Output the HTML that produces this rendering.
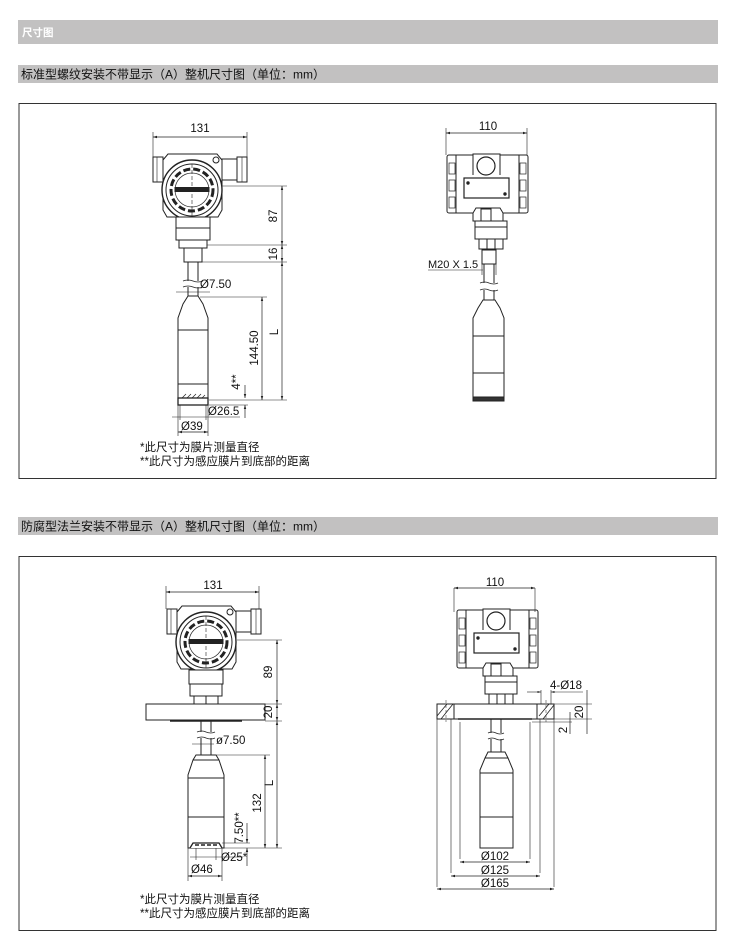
<!DOCTYPE html>
<html><head><meta charset="utf-8"><style>
html,body{margin:0;padding:0;background:#fff;}
body{width:730px;height:948px;position:relative;overflow:hidden;font-family:"Liberation Sans","Noto Sans CJK SC",sans-serif;}
svg{position:absolute;left:0;top:0;}
</style></head><body>
<svg width="730" height="948" viewBox="0 0 730 948" xmlns="http://www.w3.org/2000/svg" font-family="Liberation Sans, Noto Sans CJK SC, sans-serif">
<defs>
<marker id="a" viewBox="0 0 10 10" refX="10" refY="5" markerWidth="6" markerHeight="6" orient="auto-start-reverse"><path d="M0,2 L10,5 L0,8 z" fill="#222"/></marker>
<g id="front">
 <rect x="-39" y="-33" width="10" height="25" fill="#fff" stroke="#222"/>
 <line x1="-35" y1="-33" x2="-35" y2="-8" stroke="#222" stroke-width=".6"/>
 <rect x="30" y="-31" width="15" height="21" fill="#fff" stroke="#222"/>
 <rect x="45" y="-33" width="10" height="25" fill="#fff" stroke="#222"/>
 <line x1="50" y1="-33" x2="50" y2="-8" stroke="#222" stroke-width=".6"/>
 <path d="M-29,-30 L-24,-36 L25,-36 L30,-30 L30,20 L26,27 L-25,27 L-29,20 z" fill="#fff" stroke="#222"/>
 <circle r="30" fill="#fff" stroke="#222" stroke-width="1.4"/>
 <circle r="26" fill="none" stroke="#222"/>
 <circle r="21" fill="none" stroke="#222" stroke-width="3" stroke-dasharray="7 3"/>
 <circle r="17" fill="none" stroke="#222" stroke-width=".7"/>
 <rect x="-17" y="-2.5" width="34" height="4" fill="#222"/>
 <line x1="0" y1="-26" x2="0" y2="26" stroke="#222" stroke-width=".6" stroke-dasharray="4 2"/>
 <circle cx="24" cy="-30" r="3" fill="#fff" stroke="#222"/>
</g>
<g id="back">
 <rect x="-39" y="0" width="81" height="58" rx="2" fill="#fff" stroke="#222"/>
 <line x1="-30" y1="0" x2="-30" y2="58" stroke="#222"/>
 <line x1="33" y1="0" x2="33" y2="58" stroke="#222"/>
 <rect x="-37" y="8" width="6" height="11" fill="none" stroke="#222" stroke-width=".7"/>
 <rect x="-37" y="25" width="6" height="11" fill="none" stroke="#222" stroke-width=".7"/>
 <rect x="-37" y="42" width="6" height="11" fill="none" stroke="#222" stroke-width=".7"/>
 <rect x="34" y="8" width="6" height="11" fill="none" stroke="#222" stroke-width=".7"/>
 <rect x="34" y="25" width="6" height="11" fill="none" stroke="#222" stroke-width=".7"/>
 <rect x="34" y="42" width="6" height="11" fill="none" stroke="#222" stroke-width=".7"/>
 <path d="M-13,20 L-13,-1 L14,-1 L14,20" fill="#fff" stroke="#222"/>
 <circle cx="0" cy="11" r="9" fill="#fff" stroke="#222" stroke-width="1.2"/>
 <rect x="-22" y="23" width="45" height="20" fill="#fff" stroke="#222" stroke-width="1.2"/>
 <circle cx="-18" cy="28" r="1.2" fill="#222"/><circle cx="19" cy="39" r="1.2" fill="#222"/>
 <path d="M-13,58 L-10,53 L14,53 L17,58 L17,66 L-13,66 z" fill="#fff" stroke="#222"/>
 <rect x="-5" y="54" width="10" height="12" fill="none" stroke="#222"/>
 <rect x="-11" y="66" width="32" height="18" fill="#fff" stroke="#222"/>
 <line x1="-11" y1="72" x2="21" y2="72" stroke="#222"/>
 <rect x="-7" y="84" width="24" height="10" fill="#fff" stroke="#222"/>
 <line x1="1" y1="84" x2="1" y2="94" stroke="#222"/><line x1="9" y1="84" x2="9" y2="94" stroke="#222"/>
</g>
</defs>

<rect x="18" y="20" width="700" height="24" fill="#c2c1c1"/>
<text x="22" y="36" font-size="10.5" font-weight="bold" fill="#fff">尺寸图</text>
<rect x="18" y="65" width="700" height="18" fill="#c2c1c1"/>
<text x="21" y="78.5" font-size="12" fill="#111">标准型螺纹安装不带显示（A）整机尺寸图（单位：mm）</text>
<rect x="19" y="103.5" width="697" height="375" fill="none" stroke="#333"/>
<rect x="18" y="517" width="700" height="18" fill="#c2c1c1"/>
<text x="21" y="530.5" font-size="12" fill="#111">防腐型法兰安装不带显示（A）整机尺寸图（单位：mm）</text>
<rect x="19" y="556.5" width="697" height="374" fill="none" stroke="#333"/>

<g stroke="#222" fill="none" stroke-width="1">
<use href="#front" x="192" y="190"/>
<rect x="176" y="217" width="34" height="23" fill="#fff"/>
<line x1="176" y1="228" x2="210" y2="228"/>
<rect x="179" y="240" width="28" height="8" fill="#fff"/>
<rect x="184" y="248" width="18" height="14" fill="#fff"/>
<line x1="188" y1="262" x2="188" y2="281"/><line x1="198" y1="262" x2="198" y2="281"/>
<line x1="188" y1="287" x2="188" y2="296"/><line x1="198" y1="287" x2="198" y2="296"/>
<path d="M183,281 q5,-2 10,0 q5,2 10,0 M183,287 q5,-2 10,0 q5,2 10,0" stroke-width=".8"/>
<path d="M188,296 L198,296 L203,304 L208,318 L208,400 L178,400 L178,318 L183,304 z" fill="#fff"/>
<line x1="178" y1="330" x2="208" y2="330"/><line x1="178" y1="384" x2="208" y2="384"/>
<rect x="178" y="398" width="30" height="7" fill="#fff" stroke-width="1.3"/>
<path d="M182,398 l4,-4 M187,398 l4,-4 M192,398 l4,-4 M197,398 l4,-4 M202,398 l3,-3" stroke-width=".7"/>
<line x1="153" y1="157" x2="153" y2="132" stroke-width=".6"/><line x1="247" y1="157" x2="247" y2="132" stroke-width=".6"/>
<line x1="153" y1="137" x2="247" y2="137" stroke-width=".7" marker-start="url(#a)" marker-end="url(#a)"/>
<line x1="222" y1="186" x2="287" y2="186" stroke-width=".6"/>
<line x1="207" y1="245" x2="287" y2="245" stroke-width=".6"/>
<line x1="202" y1="262" x2="287" y2="262" stroke-width=".6"/>
<line x1="282" y1="186" x2="282" y2="245" stroke-width=".7" marker-start="url(#a)" marker-end="url(#a)"/>
<line x1="282" y1="245" x2="282" y2="262" stroke-width=".7" marker-start="url(#a)" marker-end="url(#a)"/>
<line x1="282" y1="262" x2="282" y2="400" stroke-width=".7" marker-start="url(#a)" marker-end="url(#a)"/>
<line x1="200" y1="297" x2="267" y2="297" stroke-width=".6"/>
<line x1="209" y1="400" x2="287" y2="400" stroke-width=".6"/>
<line x1="262" y1="297" x2="262" y2="400" stroke-width=".7" marker-start="url(#a)" marker-end="url(#a)"/>
<line x1="209" y1="405" x2="248" y2="405" stroke-width=".6"/>
<line x1="245" y1="385" x2="245" y2="398" stroke-width=".7" marker-end="url(#a)"/>
<line x1="245" y1="418" x2="245" y2="405" stroke-width=".7" marker-end="url(#a)"/>
<line x1="176" y1="292" x2="210" y2="292" stroke-width=".6"/>
<line x1="180" y1="405" x2="180" y2="420" stroke-width=".6"/><line x1="206" y1="405" x2="206" y2="420" stroke-width=".6"/>
<line x1="172" y1="417" x2="240" y2="417" stroke-width=".6"/>
<line x1="178" y1="405" x2="178" y2="436" stroke-width=".6"/><line x1="208" y1="405" x2="208" y2="436" stroke-width=".6"/>
<line x1="178" y1="432" x2="208" y2="432" stroke-width=".7" marker-start="url(#a)" marker-end="url(#a)"/>

<use href="#back" x="486" y="155"/>
<rect x="482" y="250" width="14" height="14" fill="#fff"/>
<line x1="484" y1="264" x2="484" y2="283"/><line x1="494" y1="264" x2="494" y2="283"/>
<line x1="484" y1="290" x2="484" y2="300"/><line x1="494" y1="290" x2="494" y2="300"/>
<path d="M480,283 q5,-2 9,0 q5,2 9,0 M480,290 q5,-2 9,0 q5,2 9,0" stroke-width=".8"/>
<path d="M483,300 L495,300 L500,308 L504,318 L504,401 L473,401 L473,318 L478,308 z" fill="#fff"/>
<line x1="473" y1="336" x2="504" y2="336"/><line x1="473" y1="373" x2="504" y2="373"/>
<rect x="473" y="397" width="31" height="4" fill="#333"/>
<line x1="446" y1="155" x2="446" y2="128" stroke-width=".6"/><line x1="527" y1="155" x2="527" y2="128" stroke-width=".6"/>
<line x1="446" y1="133" x2="527" y2="133" stroke-width=".7" marker-start="url(#a)" marker-end="url(#a)"/>
<line x1="428" y1="270" x2="483" y2="270" stroke-width=".6"/>
<line x1="482" y1="258" x2="482" y2="275" stroke-width=".6"/><line x1="496" y1="258" x2="496" y2="275" stroke-width=".6"/>

<use href="#front" x="206" y="642"/>
<rect x="189" y="670" width="34" height="14" fill="#fff"/>
<rect x="190" y="684" width="32" height="12" fill="#fff"/>
<rect x="194" y="696" width="24" height="8" fill="#fff"/>
<line x1="206" y1="696" x2="206" y2="704"/>
<rect x="146" y="704" width="119" height="16" fill="#fff"/>
<line x1="170" y1="721" x2="242" y2="721" stroke-width="1.6"/>
<line x1="201" y1="721" x2="201" y2="732"/><line x1="211" y1="721" x2="211" y2="732"/>
<line x1="201" y1="738" x2="201" y2="755"/><line x1="211" y1="738" x2="211" y2="755"/>
<path d="M197,732 q5,-2 9,0 q5,2 9,0 M197,738 q5,-2 9,0 q5,2 9,0" stroke-width=".8"/>
<path d="M196,755 L216,755 L219,760 L224,775 L224,848 L188,848 L188,775 L193,760 z" fill="#fff"/>
<line x1="193" y1="760" x2="219" y2="760"/><line x1="188" y1="778" x2="224" y2="778"/><line x1="188" y1="817" x2="224" y2="817"/>
<path d="M190,848 L193,843 L219,843 L222,848" fill="#fff" stroke-width="1.3"/>
<path d="M195,845 h4 M201,845 h4 M207,845 h4 M213,845 h4" stroke-width="1.5"/>
<line x1="166" y1="609" x2="166" y2="586" stroke-width=".6"/><line x1="259" y1="609" x2="259" y2="586" stroke-width=".6"/>
<line x1="166" y1="592" x2="259" y2="592" stroke-width=".7" marker-start="url(#a)" marker-end="url(#a)"/>
<line x1="237" y1="640" x2="282" y2="640" stroke-width=".6"/>
<line x1="265" y1="704" x2="282" y2="704" stroke-width=".6"/>
<line x1="265" y1="721" x2="282" y2="721" stroke-width=".6"/>
<line x1="277" y1="640" x2="277" y2="704" stroke-width=".7" marker-start="url(#a)" marker-end="url(#a)"/>
<line x1="277" y1="704" x2="277" y2="721" stroke-width=".7" marker-start="url(#a)" marker-end="url(#a)"/>
<line x1="277" y1="721" x2="277" y2="848" stroke-width=".7" marker-start="url(#a)" marker-end="url(#a)"/>
<line x1="212" y1="755" x2="270" y2="755" stroke-width=".6"/>
<line x1="224" y1="848" x2="282" y2="848" stroke-width=".6"/>
<line x1="265" y1="755" x2="265" y2="848" stroke-width=".7" marker-start="url(#a)" marker-end="url(#a)"/>
<line x1="222" y1="843" x2="250" y2="843" stroke-width=".6"/>
<line x1="247" y1="823" x2="247" y2="843" stroke-width=".7" marker-end="url(#a)"/>
<line x1="247" y1="866" x2="247" y2="848" stroke-width=".7" marker-end="url(#a)"/>
<line x1="192" y1="744" x2="214" y2="744" stroke-width=".6"/>
<line x1="196" y1="848" x2="196" y2="860" stroke-width=".6"/><line x1="216" y1="848" x2="216" y2="860" stroke-width=".6"/>
<line x1="190" y1="857" x2="243" y2="857" stroke-width=".6"/>
<line x1="188" y1="848" x2="188" y2="881" stroke-width=".6"/><line x1="222" y1="848" x2="222" y2="881" stroke-width=".6"/>
<line x1="188" y1="876" x2="222" y2="876" stroke-width=".7" marker-start="url(#a)" marker-end="url(#a)"/>

<use href="#back" x="496" y="610"/>
<rect x="437" y="704" width="117" height="15" fill="#fff"/>
<line x1="454" y1="704" x2="454" y2="719"/><line x1="537" y1="704" x2="537" y2="719"/>
<path d="M437,716 l10,-12 M441,719 l12,-15 M539,716 l10,-12 M543,719 l11,-14" stroke-width=".8"/>
<line x1="446" y1="700" x2="446" y2="722" stroke-width=".5" stroke-dasharray="3 2"/>
<line x1="546" y1="700" x2="546" y2="722" stroke-width=".5" stroke-dasharray="3 2"/>
<line x1="458" y1="719" x2="532" y2="719" stroke-width="1.6"/>
<line x1="491" y1="719" x2="491" y2="733"/><line x1="501" y1="719" x2="501" y2="733"/>
<line x1="491" y1="739" x2="491" y2="752"/><line x1="501" y1="739" x2="501" y2="752"/>
<path d="M488,733 q4,-2 8,0 q4,2 8,0 M488,739 q4,-2 8,0 q4,2 8,0" stroke-width=".8"/>
<path d="M488,752 L505,752 L508,758 L513,770 L513,848 L480,848 L480,770 L485,758 z" fill="#fff"/>
<line x1="485" y1="758" x2="508" y2="758"/><line x1="480" y1="773" x2="513" y2="773"/><line x1="480" y1="817" x2="513" y2="817"/>
<line x1="454" y1="588" x2="454" y2="612" stroke-width=".6"/><line x1="535" y1="588" x2="535" y2="612" stroke-width=".6"/>
<line x1="454" y1="588" x2="535" y2="588" stroke-width=".7" marker-start="url(#a)" marker-end="url(#a)"/>
<line x1="437" y1="719" x2="437" y2="887" stroke-width=".6"/><line x1="554" y1="719" x2="554" y2="887" stroke-width=".6"/>
<line x1="451" y1="719" x2="451" y2="873" stroke-width=".6"/><line x1="540" y1="719" x2="540" y2="873" stroke-width=".6"/>
<line x1="460" y1="722" x2="460" y2="859" stroke-width=".6"/><line x1="530" y1="722" x2="530" y2="859" stroke-width=".6"/>
<line x1="460" y1="862" x2="530" y2="862" stroke-width=".7" marker-start="url(#a)" marker-end="url(#a)"/>
<line x1="451" y1="876" x2="540" y2="876" stroke-width=".7" marker-start="url(#a)" marker-end="url(#a)"/>
<line x1="437" y1="889" x2="554" y2="889" stroke-width=".7" marker-start="url(#a)" marker-end="url(#a)"/>
<line x1="541" y1="690" x2="541" y2="704" stroke-width=".6"/><line x1="551" y1="690" x2="551" y2="704" stroke-width=".6"/>
<line x1="527" y1="692" x2="541" y2="692" stroke-width=".6" marker-end="url(#a)"/>
<line x1="583" y1="692" x2="551" y2="692" stroke-width=".6" marker-end="url(#a)"/>
<line x1="554" y1="704" x2="592" y2="704" stroke-width=".6"/>
<line x1="554" y1="719" x2="592" y2="719" stroke-width=".6"/>
<line x1="532" y1="722" x2="572" y2="722" stroke-width=".6"/>
<line x1="587" y1="690" x2="587" y2="734" stroke-width=".7"/>
<line x1="570" y1="712" x2="570" y2="734" stroke-width=".7"/>
</g>

<g fill="#111" font-size="11.5">
<text x="200" y="132" text-anchor="middle">131</text>
<text x="277" y="216" transform="rotate(-90 277 216)" text-anchor="middle">87</text>
<text x="277" y="254" transform="rotate(-90 277 254)" text-anchor="middle">16</text>
<text x="278" y="332" transform="rotate(-90 278 332)" text-anchor="middle">L</text>
<text x="258" y="348" transform="rotate(-90 258 348)" text-anchor="middle">144.50</text>
<text x="240" y="382" transform="rotate(-90 240 382)" text-anchor="middle">4**</text>
<text x="200" y="288">Ø7.50</text>
<text x="208" y="415">Ø26.5</text>
<text x="181" y="430">Ø39</text>
<text x="140" y="451">*此尺寸为膜片测量直径</text>
<text x="140" y="465">**此尺寸为感应膜片到底部的距离</text>
<text x="488" y="130" text-anchor="middle">110</text>
<text x="428" y="268" font-size="11">M20 X 1.5</text>

<text x="213" y="589" text-anchor="middle">131</text>
<text x="272" y="672" transform="rotate(-90 272 672)" text-anchor="middle">89</text>
<text x="272" y="712" transform="rotate(-90 272 712)" text-anchor="middle">20</text>
<text x="273" y="783" transform="rotate(-90 273 783)" text-anchor="middle">L</text>
<text x="261" y="803" transform="rotate(-90 261 803)" text-anchor="middle">132</text>
<text x="243" y="828" transform="rotate(-90 243 828)" text-anchor="middle">7.50**</text>
<text x="216" y="744">ø7.50</text>
<text x="221" y="861">Ø25*</text>
<text x="191" y="873">Ø46</text>
<text x="140" y="903">*此尺寸为膜片测量直径</text>
<text x="140" y="917">**此尺寸为感应膜片到底部的距离</text>
<text x="495" y="586" text-anchor="middle">110</text>
<text x="550" y="689">4-Ø18</text>
<text x="583" y="712" transform="rotate(-90 583 712)" text-anchor="middle">20</text>
<text x="567" y="730" transform="rotate(-90 567 730)" text-anchor="middle">2</text>
<text x="495" y="860" text-anchor="middle">Ø102</text>
<text x="495" y="874" text-anchor="middle">Ø125</text>
<text x="495" y="887" text-anchor="middle">Ø165</text>
</g>
</svg>
</body></html>
